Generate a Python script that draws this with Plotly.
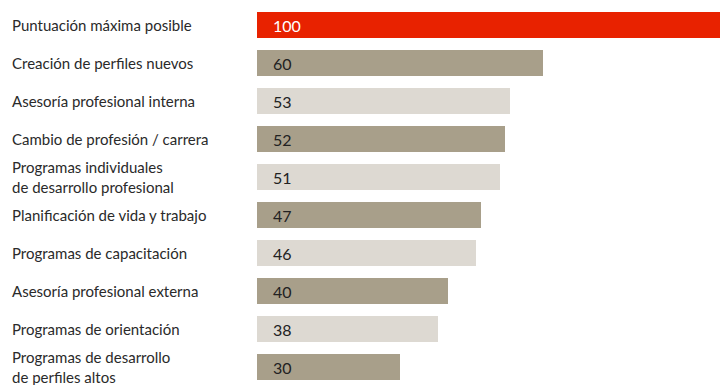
import plotly.graph_objects as go

categories = [
    "Puntuación máxima posible",
    "Creación de perfiles nuevos",
    "Asesoría profesional interna",
    "Cambio de profesión / carrera",
    "Programas individuales<br>de desarrollo profesional",
    "Planificación de vida y trabajo",
    "Programas de capacitación",
    "Asesoría profesional externa",
    "Programas de orientación",
    "Programas de desarrollo<br>de perfiles altos",
]
values = [100, 60, 53, 52, 51, 47, 46, 40, 38, 30]
bar_colors = ["#E82200", "#A89F8A", "#DDD9D2", "#A89F8A", "#DDD9D2",
              "#A89F8A", "#DDD9D2", "#A89F8A", "#DDD9D2", "#A89F8A"]
text_colors = ["#FFFFFF"] + ["#222222"] * 9

fig = go.Figure()
fig.add_trace(go.Bar(
    x=values, y=categories, orientation="h",
    marker=dict(color=bar_colors, line=dict(width=0)),
    width=26 / 38, hoverinfo="skip",
))

L, W = 257, 720 - 257
T = 6
H = 385 - T
font = "Lato, 'Open Sans', sans-serif"
ann = []
for c, v, tc in zip(categories, values, text_colors):
    ann.append(dict(x=-(L - 10) / W, xref="paper", y=c, yref="y", text=c,
                    xanchor="left", yanchor="middle", showarrow=False, align="left",
                    font=dict(family=font, size=15, color="#2a2a2a")))
    ann.append(dict(x=0, xref="x", y=c, yref="y", text=str(v), xshift=14,
                    xanchor="left", yanchor="middle", showarrow=False,
                    font=dict(family=font, size=16, color=tc)))

fig.update_layout(
    width=720, height=385,
    margin=dict(l=L, r=0, t=T, b=0, pad=0),
    paper_bgcolor="white", plot_bgcolor="white",
    showlegend=False, bargap=0,
    xaxis=dict(range=[0, W / 4.77], visible=False, fixedrange=True),
    yaxis=dict(range=[-0.5 + H / 38, -0.5], visible=False, fixedrange=True,
               categoryorder="array", categoryarray=categories),
    annotations=ann,
)
fig.write_html("out.html")
